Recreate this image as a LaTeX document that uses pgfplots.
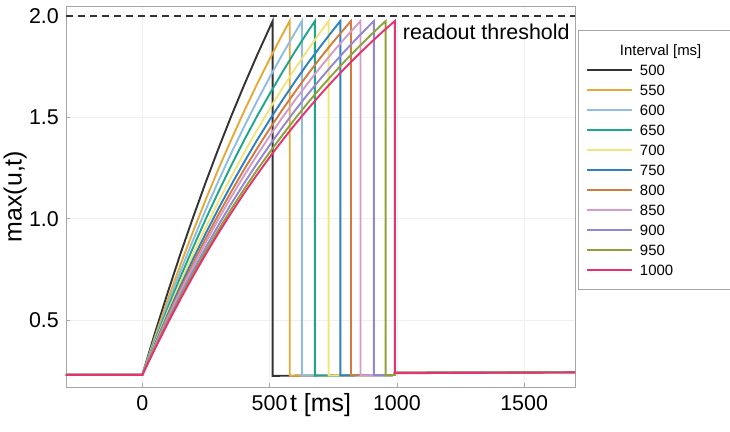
\documentclass[border=0pt]{standalone}
\usepackage{fontspec}
\setmainfont{Liberation Sans}
\usepackage{pgfplots}
\pgfplotsset{compat=1.18}
\usetikzlibrary{calc}
\definecolor{c500}{HTML}{333333}
\definecolor{c550}{HTML}{E5A937}
\definecolor{c600}{HTML}{8FBCE0}
\definecolor{c650}{HTML}{1FA589}
\definecolor{c700}{HTML}{F2E47C}
\definecolor{c750}{HTML}{2F80C0}
\definecolor{c800}{HTML}{D17C3E}
\definecolor{c850}{HTML}{D49BC6}
\definecolor{c900}{HTML}{9287D0}
\definecolor{c950}{HTML}{8DA23A}
\definecolor{c1000}{HTML}{E4336E}
\begin{document}
\begin{tikzpicture}
\begin{axis}[
  name=ax, scale only axis, width=509bp, height=381bp,
  xmin=-300, xmax=1700, ymin=0.17, ymax=2.049,
  xtick={0,500,1000,1500}, ytick={0.5,1,1.5,2},
  /pgf/number format/assume math mode=true,
  /pgf/number format/1000 sep={},
  ticklabel style={font=\fontsize{21.5}{24}\selectfont, inner sep=0pt},
  yticklabel style={/pgf/number format/fixed, /pgf/number format/fixed zerofill, /pgf/number format/precision=1, xshift=-7bp},
  xticklabel style={yshift=-8bp},
  tick align=inside, tick pos=left, major tick length=4bp,
  tick style={gray!70, line width=0.6bp},
  axis line style={gray!70, line width=0.8bp},
  grid=major, major grid style={gray!12, line width=0.6bp},
  xlabel={t [ms]}, ylabel={max(u,t)},
  every axis x label/.style={at={(axis description cs:0.5,-0.016)}, anchor=north, inner sep=0pt, font=\fontsize{25}{28}\selectfont},
  every axis y label/.style={at={(axis description cs:-0.0766,0.5)}, anchor=south, rotate=90, inner sep=0pt, font=\fontsize{25}{28}\selectfont},
  legend style={at={(axis description cs:1.006,0.937)}, anchor=north west,
    draw=gray!70, line width=0.8bp, fill=white, font=\fontsize{15}{17}\selectfont,
    inner xsep=7bp, inner ysep=14bp, row sep=9.2bp, column sep=7bp,
    nodes={inner sep=0pt, text height=10.8bp, text depth=0pt},
    cells={anchor=west}},
  legend image code/.code={\draw[#1, line width=2.5bp] (0bp,0bp) -- (45bp,0bp);},
  every axis plot/.append style={line width=1.9bp},
]
\addlegendimage{empty legend}
\addlegendentry{\makebox[85bp][l]{\hspace{-20bp}Interval [ms]}}
\addplot[black!80, dash pattern=on 7bp off 5bp, line width=1.2bp, forget plot] coordinates {(-300,2) (1700,2)};
\addplot[c500] coordinates {(-300,0.23) (0,0.23) (50,0.438) (100,0.637) (150,0.828) (200,1.009) (250,1.183) (300,1.349) (350,1.508) (400,1.659) (450,1.804) (500,1.942) (512,1.975) (512,0.225) (992,0.229) (992,0.240) (1700,0.243)};
\addlegendentry{500}
\addplot[c550] coordinates {(-300,0.23) (0,0.23) (50,0.419) (100,0.601) (150,0.774) (200,0.939) (250,1.097) (300,1.248) (350,1.392) (400,1.530) (450,1.662) (500,1.787) (550,1.908) (579,1.975) (579,0.2256) (992,0.229) (992,0.240) (1700,0.243)};
\addlegendentry{550}
\addplot[c600] coordinates {(-300,0.23) (0,0.23) (50,0.408) (100,0.579) (150,0.742) (200,0.897) (250,1.047) (300,1.189) (350,1.325) (400,1.454) (450,1.578) (500,1.697) (550,1.810) (600,1.918) (627,1.975) (627,0.226) (992,0.229) (992,0.240) (1700,0.243)};
\addlegendentry{600}
\addplot[c650] coordinates {(-300,0.23) (0,0.23) (50,0.399) (100,0.560) (150,0.713) (200,0.860) (250,1.001) (300,1.135) (350,1.264) (400,1.387) (450,1.504) (500,1.615) (550,1.722) (600,1.825) (650,1.922) (678,1.975) (678,0.2264) (992,0.229) (992,0.240) (1700,0.243)};
\addlegendentry{650}
\addplot[c700] coordinates {(-300,0.23) (0,0.23) (50,0.390) (100,0.542) (150,0.688) (200,0.827) (250,0.960) (300,1.087) (350,1.209) (400,1.325) (450,1.436) (500,1.541) (550,1.643) (600,1.740) (650,1.832) (700,1.921) (732,1.975) (732,0.2268) (992,0.229) (992,0.240) (1700,0.243)};
\addlegendentry{700}
\addplot[c750] coordinates {(-300,0.23) (0,0.23) (50,0.383) (100,0.529) (150,0.669) (200,0.802) (250,0.930) (300,1.052) (350,1.168) (400,1.279) (450,1.386) (500,1.487) (550,1.584) (600,1.677) (650,1.766) (700,1.850) (750,1.931) (778,1.975) (778,0.2272) (992,0.229) (992,0.240) (1700,0.243)};
\addlegendentry{750}
\addplot[c800] coordinates {(-300,0.23) (0,0.23) (50,0.378) (100,0.519) (150,0.653) (200,0.782) (250,0.905) (300,1.023) (350,1.135) (400,1.243) (450,1.345) (500,1.443) (550,1.537) (600,1.626) (650,1.712) (700,1.794) (750,1.872) (800,1.946) (820,1.975) (820,0.2276) (992,0.229) (992,0.240) (1700,0.243)};
\addlegendentry{800}
\addplot[c850] coordinates {(-300,0.23) (0,0.23) (50,0.373) (100,0.510) (150,0.641) (200,0.766) (250,0.885) (300,1.000) (350,1.109) (400,1.213) (450,1.312) (500,1.407) (550,1.499) (600,1.585) (650,1.668) (700,1.748) (750,1.824) (800,1.896) (850,1.965) (857,1.975) (857,0.2279) (992,0.229) (992,0.240) (1700,0.243)};
\addlegendentry{850}
\addplot[c900] coordinates {(-300,0.23) (0,0.23) (50,0.368) (100,0.499) (150,0.625) (200,0.745) (250,0.860) (300,0.970) (350,1.075) (400,1.175) (450,1.271) (500,1.362) (550,1.450) (600,1.534) (650,1.614) (700,1.690) (750,1.763) (800,1.833) (850,1.899) (900,1.963) (910,1.975) (910,0.2284) (992,0.229) (992,0.240) (1700,0.243)};
\addlegendentry{900}
\addplot[c950] coordinates {(-300,0.23) (0,0.23) (50,0.364) (100,0.491) (150,0.613) (200,0.729) (250,0.841) (300,0.947) (350,1.049) (400,1.146) (450,1.239) (500,1.327) (550,1.412) (600,1.493) (650,1.571) (700,1.645) (750,1.715) (800,1.783) (850,1.847) (900,1.909) (950,1.968) (956,1.975) (956,0.2288) (992,0.229) (992,0.240) (1700,0.243)};
\addlegendentry{950}
\addplot[c1000] coordinates {(-300,0.23) (0,0.23) (50,0.360) (100,0.485) (150,0.604) (200,0.718) (250,0.827) (300,0.931) (350,1.030) (400,1.126) (450,1.216) (500,1.303) (550,1.386) (600,1.465) (650,1.540) (700,1.613) (750,1.682) (800,1.748) (850,1.811) (900,1.871) (950,1.929) (992,1.975) (992,0.238) (1700,0.242)};
\addlegendentry{1000}
\node[anchor=west, inner sep=0pt, font=\fontsize{21.5}{24}\selectfont] at (axis cs:1023,1.9235) {readout threshold};
\end{axis}
\pgfresetboundingbox
\path[use as bounding box] ($(ax.south west)+(-66bp,-45bp)$) rectangle ($(ax.north east)+(155bp,6bp)$);
\end{tikzpicture}
\end{document}
